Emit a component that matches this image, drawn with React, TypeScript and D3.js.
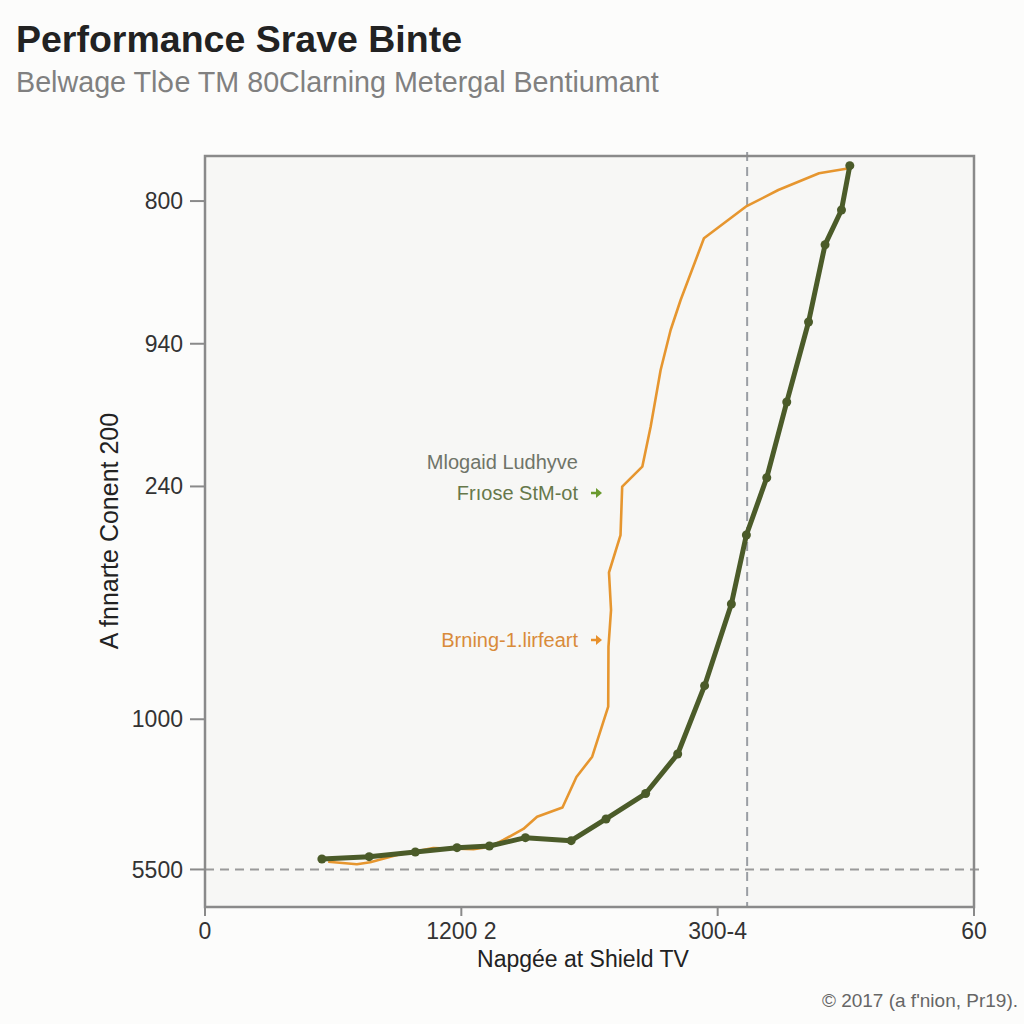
import React from "react";
import * as d3 from "d3";

const titleText = "Performance Srave Binte";
const subtitleText = "Belwage Tlꝺe TM 80Clarning Metergal Bentiumant";
const xAxisTitle = "Napgée at Shield TV";
const yAxisTitle = "A fnnarte Conent 200";
const footerText = "© 2017 (a f'nion, Pr19).";

const xTickValues = [0, 20, 40, 60];
const xTickLabels = ["0", "1200 2", "300-4", "60"];
const yTickValues = [5, 25, 56, 75, 94];
const yTickLabels = ["5500", "1000", "240", "940", "800"];

const refLineX = 42.3;
const refLineY = 5;

const greenX = [9.12, 12.81, 16.41, 19.66, 22.19, 25.0, 28.57, 31.29, 34.38, 36.88, 38.98, 41.07, 42.24, 43.83, 45.39, 47.09, 48.38, 49.66, 50.31];
const greenY = [6.39, 6.7, 7.32, 7.9, 8.12, 9.23, 8.83, 11.72, 15.11, 20.37, 29.47, 40.35, 49.53, 57.16, 67.24, 77.9, 88.19, 92.81, 98.71];

const orangeX = [9.61, 11.85, 12.89, 14.98, 17.81, 20.94, 22.27, 23.28, 24.84, 25.91, 27.89, 28.98, 30.21, 31.46, 31.48, 31.68, 31.52, 32.42, 32.55, 34.12, 34.77, 35.55, 36.33, 37.11, 38.93, 42.19, 44.73, 47.91, 50.26];
const orangeY = [6.03, 5.69, 5.95, 6.92, 7.86, 7.68, 8.03, 8.92, 10.39, 12.02, 13.25, 17.31, 20.01, 26.67, 34.66, 39.55, 44.54, 49.53, 55.97, 58.63, 63.95, 71.5, 76.83, 80.83, 89.04, 93.25, 95.47, 97.7, 98.36];

const annoLines = ["Mlogaid Ludhyve", "Frıose StM-ot", "Brning-1.lirfeart"];

const FONT = "'Liberation Sans', Arial, sans-serif";

function Arrow({ x0, y0, color }: { x0: number; y0: number; color: string }) {
  return (
    <g>
      <line x1={x0} x2={x0 + 8} y1={y0} y2={y0} stroke={color} strokeWidth={2.5} />
      <path d={`M${x0 + 5},${y0 - 5} L${x0 + 11},${y0} L${x0 + 5},${y0 + 5} Z`} fill={color} />
    </g>
  );
}

export default function App() {
  const left = 205, right = 974, top = 156, bottom = 907;
  const x = d3.scaleLinear().domain([0, 60]).range([left, right]);
  const y = d3.scaleLinear().domain([0, 100]).range([bottom, top]);

  const green = greenX.map((v, i) => [v, greenY[i]] as [number, number]);
  const orange = orangeX.map((v, i) => [v, orangeY[i]] as [number, number]);
  const line = d3.line<[number, number]>().x(d => x(d[0])).y(d => y(d[1]));

  const greenColor = "#4b5b29";
  const orangeColor = "#e6962f";

  return (
    <svg width={1024} height={1024} style={{ position: "absolute", left: 0, top: 0, background: "#fcfcfb" }} fontFamily={FONT}>
      <rect x={0} y={0} width={1024} height={1024} fill="#fcfcfb" />
      <text x={16} y={52} fontSize={37.5} fontWeight="bold" fill="#222">{titleText}</text>
      <text x={16} y={92} fontSize={28.7} fill="#808080">{subtitleText}</text>

      <rect x={left} y={top} width={right - left} height={bottom - top} fill="#f7f7f5" />

      {/* reference lines */}
      <line x1={x(refLineX)} x2={x(refLineX)} y1={top - 4} y2={bottom} stroke="#9a9ea3" strokeWidth={2} strokeDasharray="9 6" />
      <line x1={left} x2={right + 6} y1={y(refLineY)} y2={y(refLineY)} stroke="#9a9a9a" strokeWidth={2} strokeDasharray="9 6" />

      {/* series */}
      <path d={line(orange) || ""} fill="none" stroke={orangeColor} strokeWidth={2.6} strokeLinejoin="round" />
      <path d={line(green) || ""} fill="none" stroke={greenColor} strokeWidth={5} strokeLinejoin="round" />
      {green.map((d, i) => (
        <circle key={i} cx={x(d[0])} cy={y(d[1])} r={4.5} fill={greenColor} />
      ))}

      {/* frame */}
      <rect x={left} y={top} width={right - left} height={bottom - top} fill="none" stroke="#8a8a8a" strokeWidth={2.5} />

      {/* y axis */}
      {yTickValues.map((v, i) => (
        <g key={i}>
          <line x1={left - 15} x2={left} y1={y(v)} y2={y(v)} stroke="#8a8a8a" strokeWidth={2} />
          <text x={left - 22} y={y(v)} dy="0.35em" textAnchor="end" fontSize={23} fill="#333">{yTickLabels[i]}</text>
        </g>
      ))}
      <text transform={`translate(118,531) rotate(-90)`} textAnchor="middle" fontSize={25} fill="#222">{yAxisTitle}</text>

      {/* x axis */}
      {xTickValues.map((v, i) => (
        <g key={i}>
          <line x1={x(v)} x2={x(v)} y1={bottom} y2={bottom + 9} stroke="#8a8a8a" strokeWidth={2} />
          <text x={x(v)} y={939} textAnchor="middle" fontSize={23} fill="#333">{xTickLabels[i]}</text>
        </g>
      ))}
      <text x={583} y={967} textAnchor="middle" fontSize={23} fill="#222">{xAxisTitle}</text>

      {/* annotations */}
      <text x={578} y={469} textAnchor="end" fontSize={20} fill="#6f7468">{annoLines[0]}</text>
      <text x={578} y={500} textAnchor="end" fontSize={20} fill="#66784a">{annoLines[1]}</text>
      <Arrow x0={591} y0={493} color="#6a9a2e" />
      <text x={578} y={647} textAnchor="end" fontSize={20} fill="#d98b3a">{annoLines[2]}</text>
      <Arrow x0={591} y0={640} color="#e8902a" />

      <text x={1018} y={1007} textAnchor="end" fontSize={19} fill="#666">{footerText}</text>
    </svg>
  );
}
